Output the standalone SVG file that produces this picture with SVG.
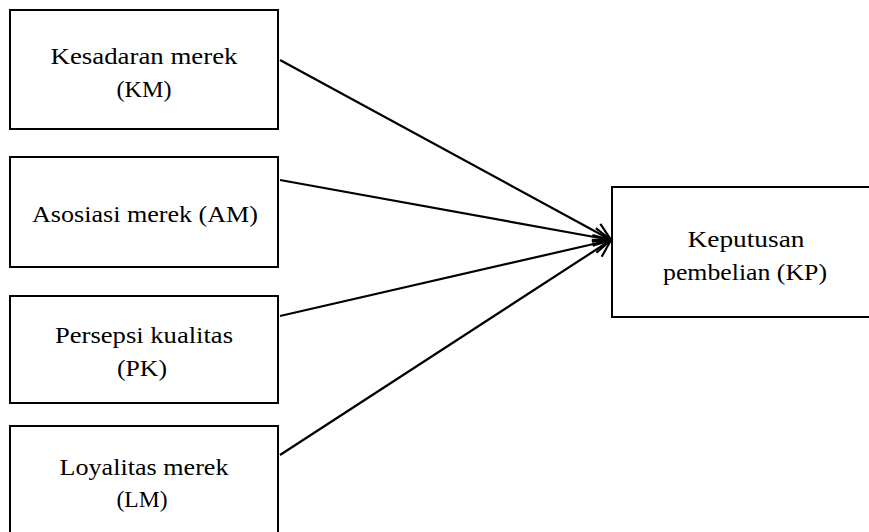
<svg xmlns="http://www.w3.org/2000/svg" width="869" height="532" viewBox="0 0 869 532">
<style>
.box{fill:#fff;stroke:#000;stroke-width:2}
.t{font-family:"Liberation Serif","DejaVu Serif",serif;font-size:24px;fill:#000;text-anchor:middle}
.c{stroke:#000;stroke-width:2.2;fill:none}
</style>
<defs>
<marker id="arr" markerUnits="userSpaceOnUse" markerWidth="20" markerHeight="22" viewBox="0 0 20 22" refX="18" refY="11" orient="auto">
<path d="M1,2 L18,11 L1,20" fill="none" stroke="#000" stroke-width="2.2"/>
</marker>
</defs>
<rect width="869" height="532" fill="#fff"/>
<g id="connectors">
<line class="c" x1="280" y1="60" x2="611" y2="240" marker-end="url(#arr)"/>
<line class="c" x1="280" y1="180" x2="611" y2="240" marker-end="url(#arr)"/>
<line class="c" x1="280" y1="316" x2="611" y2="240" marker-end="url(#arr)"/>
<line class="c" x1="280" y1="455" x2="611" y2="240" marker-end="url(#arr)"/>
</g>
<g id="KM">
<rect class="box" x="10" y="10" width="268" height="119"/>
<text class="t" x="144" y="64" textLength="187" lengthAdjust="spacingAndGlyphs">Kesadaran merek</text>
<text class="t" x="144" y="97" textLength="55" lengthAdjust="spacingAndGlyphs">(KM)</text>
</g>
<g id="AM">
<rect class="box" x="10" y="157" width="268" height="110"/>
<text class="t" x="145" y="222" textLength="226" lengthAdjust="spacingAndGlyphs">Asosiasi merek (AM)</text>
</g>
<g id="PK">
<rect class="box" x="10" y="296" width="268" height="107"/>
<text class="t" x="144" y="343" textLength="178" lengthAdjust="spacingAndGlyphs">Persepsi kualitas</text>
<text class="t" x="142" y="376" textLength="50" lengthAdjust="spacingAndGlyphs">(PK)</text>
</g>
<g id="LM">
<rect class="box" x="10" y="426" width="268" height="120"/>
<text class="t" x="144" y="475" textLength="169" lengthAdjust="spacingAndGlyphs">Loyalitas merek</text>
<text class="t" x="142" y="507" textLength="51" lengthAdjust="spacingAndGlyphs">(LM)</text>
</g>
<g id="KP">
<rect class="box" x="612" y="187" width="270" height="130"/>
<text class="t" x="746" y="247" textLength="117" lengthAdjust="spacingAndGlyphs">Keputusan</text>
<text class="t" x="745" y="280" textLength="164" lengthAdjust="spacingAndGlyphs">pembelian (KP)</text>
</g>
</svg>
